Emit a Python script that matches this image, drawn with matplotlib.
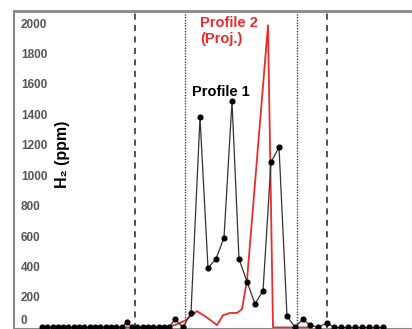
import matplotlib
matplotlib.use('Agg')
import matplotlib.pyplot as plt

plt.rcParams['font.family'] = ['Liberation Sans', 'DejaVu Sans']

# Profile 1 (black, with markers) - position along traverse, H2 in ppm
p1_x = [42, 47, 53, 58, 63, 68, 74, 79, 84, 90, 95, 100, 106, 111, 116, 122,
        127, 132, 137, 143, 148, 153, 159, 164, 169,
        175, 183, 191, 200, 208, 216, 224, 232, 239, 247, 255, 263, 271, 279,
        287, 295, 303, 310, 318, 327, 334, 341, 348, 355, 362, 369, 376, 383]
p1_h2 = [0, 0, 0, 0, 0, 0, 0, 0, 0, 0, 0, 0, 0, 0, 0, 0,
         35, 0, 0, 0, 0, 0, 0, 0, 0,
         55, 0, 95, 1380, 390, 450, 590, 1485, 450, 300, 155, 240, 1085, 1185,
         75, 0, 55, 15, 0, 30, 0, 0, 0, 0, 0, 0, 0, 0]

# Profile 2 (projected, red line)
p2_x = [97, 130, 162, 175, 185, 197, 208, 217, 223, 230, 237, 242, 247, 268, 273, 310]
p2_h2 = [0, 0, 0, 15, 45, 107, 60, 15, 80, 95, 95, 120, 310, 1985, 0, 0]

# zone boundaries
dashed_x = [135, 327]
dotted_x = [185, 297]

yticks = list(range(0, 2001, 200))

fig = plt.figure(figsize=(4.12, 3.29), dpi=100)
ax = fig.add_axes([14 / 412, 0, 398 / 412, 318 / 329])

for xv in dashed_x:
    ax.axvline(xv, color='#222222', lw=1.1, dashes=(4, 3.5), zorder=1)
for xv in dotted_x:
    ax.axvline(xv, color='#444444', lw=1.0, ls=(0, (1, 1)), zorder=1)

ax.plot(p2_x, p2_h2, color='#ee2a2a', lw=1.3, zorder=2)
ax.plot(p1_x, p1_h2, color='#333333', lw=0.9, marker='o', ms=3.4,
        mfc='black', mec='black', zorder=3)

ax.set_xlim(14, 412)
ax.set_ylim(-10.5, 2079)
ax.set_xticks([])
ax.set_yticks(yticks)
ax.set_yticklabels([str(v) for v in yticks])
ax.tick_params(axis='y', length=0, pad=-5, labelsize=8.5, labelcolor='#555555')
for lab in ax.get_yticklabels():
    lab.set_horizontalalignment('left')
    lab.set_fontweight('bold')
ax.get_yticklabels()[0].set_verticalalignment('bottom')

ax.spines['right'].set_visible(False)
ax.spines['top'].set_color('#888888')
ax.spines['top'].set_linewidth(2.0)
ax.spines['left'].set_color('#888888')
ax.spines['left'].set_linewidth(1.5)
ax.spines['bottom'].set_color('#888888')
ax.spines['bottom'].set_linewidth(1.5)

ax.text(0.123, 0.55, 'H₂ (ppm)', transform=ax.transAxes, rotation=90,
        ha='center', va='center', fontsize=11.5, fontweight='bold')
ax.text(192, 1550, 'Profile 1', ha='left', va='center', fontsize=10.5,
        fontweight='bold', color='black')
ax.text(200, 2045, 'Profile 2\n(Proj.)', ha='left', va='top', fontsize=10.5,
        fontweight='bold', color='#ee2a2a', linespacing=1.15)

fig.savefig('out.png', dpi=100)
